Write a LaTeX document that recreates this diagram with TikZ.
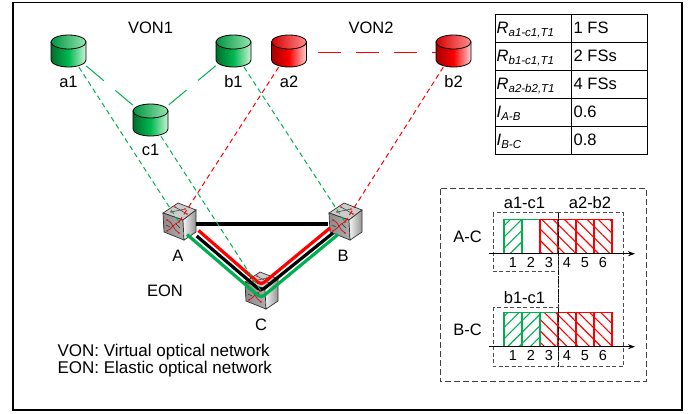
\documentclass[tikz,border=0pt]{standalone}
\usepackage{fontspec}
\setmainfont{Liberation Sans}
\usetikzlibrary{patterns.meta,arrows.meta}
\definecolor{vgreen}{RGB}{0,176,80}
\definecolor{vred}{RGB}{255,0,0}
\definecolor{gdk}{RGB}{0,110,45}
\definecolor{gmd}{RGB}{0,185,80}
\definecolor{glt}{RGB}{205,242,215}
\definecolor{gtopl}{RGB}{0,150,65}
\definecolor{gtopr}{RGB}{150,228,175}
\definecolor{rdk}{RGB}{165,0,0}
\definecolor{rmd}{RGB}{250,0,0}
\definecolor{rlt}{RGB}{255,210,210}
\definecolor{rtopl}{RGB}{215,0,0}
\definecolor{rtopr}{RGB}{255,140,140}
\tikzset{
  vnode/.style={rectangle, minimum width=35pt, minimum height=32pt, inner sep=0pt},
  swnode/.style={rectangle, minimum width=34pt, minimum height=37pt, inner sep=0pt},
  lbl/.style={inner sep=0pt, anchor=base},
  dig/.style={inner sep=0pt, anchor=base, font=\fontsize{14.5}{16}\selectfont},
  cell/.style={inner sep=0pt, anchor=base west},
  maplink/.style={line width=1pt, dash pattern=on 5pt off 3.5pt},
  vlink/.style={line width=1pt, dash pattern=on 23pt off 15pt},
  vlinkb/.style={line width=1.3pt, dash pattern=on 0pt off 11pt on 23pt off 15pt on 23pt off 15pt on 23pt off 15pt on 12pt},
  fiber/.style={line width=3.2pt, rounded corners=4pt},
  obox/.style={draw=black!75, line width=1pt, dash pattern=on 6pt off 3pt},
  ibox/.style={draw=black!70, line width=1pt, dash pattern=on 4pt off 2.5pt},
  gslot/.style={draw=vgreen, line width=1.2pt, pattern={Lines[angle=45,distance=8pt,line width=1.1pt]}, pattern color=vgreen},
  eslot/.style={draw=vgreen, line width=1.2pt},
  rslot/.style={draw=vred, line width=1.2pt, pattern={Lines[angle=-45,distance=8pt,line width=1.1pt]}, pattern color=vred},
  grslot/.style={draw=vgreen, line width=1.2pt, pattern={Lines[angle=-45,distance=8pt,line width=1.1pt]}, pattern color=vred},
  pics/vcyl/.style n args={5}{code={
    \draw[line width=0.8pt, left color=#1, right color=#3, middle color=#2]
      (-17.5,-9) -- (-17.5,9) arc[start angle=180, end angle=0, x radius=17.5, y radius=7] -- (17.5,-9) -- cycle;
    \draw[line width=0.8pt, left color=#4, right color=#5] (0,-9) ellipse[x radius=17.5, y radius=7];
  }},
  pics/swcube/.style={code={
    \draw[draw=black!80, line width=0.7pt, fill=black!20] (-16,-9) -- (-1,-19) -- (17,-12) -- (4,-2) -- cycle;
    \draw[draw=black!80, line width=0.7pt, left color=black!45, right color=black!32] (-16,-9) -- (4,-2) -- (5,18) -- (-15,10) -- cycle;
    \draw[draw=black!80, line width=0.7pt, left color=black!4, right color=black!42] (4,-2) -- (17,-12) -- (17,10) -- (5,18) -- cycle;
    \draw[black!80, line width=0.5pt] (-8,-10) -- (6,-13) (-4,-15) -- (8,-8);
    \fill[red] (-8,-10) circle (0.9) (8,-8) circle (0.9) (6,-13) circle (0.9) (-4,-15) circle (0.9);
    \draw[red!85!black, line width=0.6pt] (-12,-2) .. controls (-6,0) and (-6,8) .. (0,11);
    \draw[red!85!black, line width=0.6pt] (-12,9) .. controls (-6,6) and (-6,2) .. (0,0);
    \draw[black!80, line width=0.5pt] (-13,3) -- (-9,5) (-3,2) -- (1,6);
    \fill[red] (-12,-2) circle (0.9) (0,11) circle (0.9) (-12,9) circle (0.9) (0,0) circle (0.9);
  }}
}
\begin{document}
\begin{tikzpicture}[x=1pt, y=-1pt, font=\fontsize{16.5}{19}\selectfont]
\useasboundingbox (0,0) rectangle (699,413);
\draw[line width=1.2pt] (13,2.5) rectangle (682,410);

% ---------- nodes ----------
\node[vnode] (a1) at (68.5,51) {};
\node[vnode] (b1) at (233.5,51) {};
\node[vnode] (a2) at (289,51) {};
\node[vnode] (b2) at (453.5,51) {};
\node[vnode] (c1) at (150.5,120) {};
\node[swnode] (A) at (179,222) {};
\node[swnode] (B) at (345,222) {};
\node[swnode] (C) at (261,291) {};

% labels
\node[lbl] (lvon1) at (150.5,33) {VON1};
\node[lbl] (lvon2) at (371,33) {VON2};
\node[lbl] (la1) at (68.5,87) {a1};
\node[lbl] (lb1) at (233.5,87) {b1};
\node[lbl] (la2) at (289,87) {a2};
\node[lbl] (lb2) at (453.5,87) {b2};
\node[lbl] (lc1) at (150.5,155) {c1};
\node[lbl] (lA) at (178,261) {A};
\node[lbl] (lB) at (343,261) {B};
\node[lbl] (lC) at (261,330) {C};
\node[lbl] (leon) at (165,296) {EON};
\node[cell, font=\fontsize{17}{19}\selectfont] (leg1) at (57.3,356.7) {VON: Virtual optical network};
\node[cell, font=\fontsize{17}{19}\selectfont] (leg2) at (57.3,373.3) {EON: Elastic optical network};

% ---------- switches ----------
\pic at (A.center) {swcube};
\pic at (B.center) {swcube};
\pic at (C.center) {swcube};

% physical links
\draw[line width=3.3pt, black] ([shift={(0,2)}]A.east) -- ([shift={(0,2)}]B.west);
\draw[fiber, black] ([shift={(17.7,14)}]A.center) -- (C.center) -- ([shift={(-12,11)}]B.center);
\draw[fiber, vred] ([shift={(19.5,8.5)}]A.center) -- ([shift={(0,-6)}]C.center) -- ([shift={(-15,6)}]B.center);
\draw[fiber, vgreen] ([shift={(8,12.5)}]A.center) -- ([shift={(0,7)}]C.center) -- ([shift={(-7,12.5)}]B.center);

% virtual links
\draw[vlink, draw=vgreen] (a1) -- (c1);
\draw[vlink, draw=vgreen] (b1) -- (c1);
\draw[vlinkb, draw=vred] ([shift={(0,1.5)}]a2.east) -- ([shift={(0,1.5)}]b2.west);

% mapping links
\draw[maplink, draw=vgreen] (a1) -- (A.center);
\draw[maplink, draw=vgreen] (c1) -- (C.center);
\draw[maplink, draw=vgreen] (b1) -- (B.center);
\draw[maplink, draw=vred] (a2) -- (A.center);
\draw[maplink, draw=vred] (b2) -- (B.center);

% ---------- virtual nodes ----------
\pic at (a1.center) {vcyl={gdk}{gmd}{glt}{gtopl}{gtopr}};
\pic at (b1.center) {vcyl={gdk}{gmd}{glt}{gtopl}{gtopr}};
\pic at (c1.center) {vcyl={gdk}{gmd}{glt}{gtopl}{gtopr}};
\pic at (a2.center) {vcyl={rdk}{rmd}{rlt}{rtopl}{rtopr}};
\pic at (b2.center) {vcyl={rdk}{rmd}{rlt}{rtopl}{rtopr}};

% ---------- table ----------
\draw[line width=1pt] (495,14) rectangle (647,154);
\draw[line width=1pt] (495,42) -- (647,42) (495,70) -- (647,70) (495,98) -- (647,98) (495,126) -- (647,126) (571,14) -- (571,154);
\node[cell] (t1a) at (496.5,33) {\itshape R\raisebox{-3.5pt}{\fontsize{11.5}{12}\selectfont a1-c1,T1}};
\node[cell] (t2a) at (496.5,61) {\itshape R\raisebox{-3.5pt}{\fontsize{11.5}{12}\selectfont b1-c1,T1}};
\node[cell] (t3a) at (496.5,89) {\itshape R\raisebox{-3.5pt}{\fontsize{11.5}{12}\selectfont a2-b2,T1}};
\node[cell] (t4a) at (496.5,117) {\itshape I\raisebox{-3.5pt}{\fontsize{11.5}{12}\selectfont A-B}};
\node[cell] (t5a) at (496.5,145) {\itshape I\raisebox{-3.5pt}{\fontsize{11.5}{12}\selectfont B-C}};
\node[cell] (t1b) at (573.5,33) {1 FS};
\node[cell] (t2b) at (573.5,61) {2 FSs};
\node[cell] (t3b) at (573.5,89) {4 FSs};
\node[cell] (t4b) at (573.5,117) {0.6};
\node[cell] (t5b) at (573.5,145) {0.8};

% ---------- spectrum ----------
\draw[obox] (440,188.5) rectangle (646.5,381.7);
\draw[ibox] (493,212.7) rectangle (558,271.7);
\draw[ibox] (558,212.7) rectangle (623.3,366.7);
\draw[ibox] (493,307.3) rectangle (558,366.7);

% A-C slots
\draw[gslot] (504,219.3) rectangle (522,253.7);
\draw[eslot] (522,219.3) rectangle (540,253.7);
\draw[rslot] (540,219.3) rectangle (558,253.7);
\draw[rslot] (558,219.3) rectangle (576,253.7);
\draw[rslot] (576,219.3) rectangle (594,253.7);
\draw[rslot] (594,219.3) rectangle (612,253.7);
% B-C slots
\draw[gslot] (504,312.3) rectangle (522,346.7);
\draw[gslot] (522,312.3) rectangle (540,346.7);
\draw[grslot] (540,312.3) rectangle (558,346.7);
\draw[rslot] (558,312.3) rectangle (576,346.7);
\draw[rslot] (576,312.3) rectangle (594,346.7);
\draw[rslot] (594,312.3) rectangle (612,346.7);

\draw[black, line width=1pt, dash pattern=on 5pt off 1.5pt on 1.5pt off 1.5pt] (558,212.7) -- (558,366.7);

\coordinate (axAs) at (489,253.7);
\coordinate (axAe) at (635,253.7);
\coordinate (axBs) at (489,346.7);
\coordinate (axBe) at (635,346.7);
\draw[line width=1pt, -{Stealth[length=7pt,width=5pt]}] (axAs) -- (axAe);
\draw[line width=1pt, -{Stealth[length=7pt,width=5pt]}] (axBs) -- (axBe);

\node[lbl] (sac1) at (524.5,208) {a1-c1};
\node[lbl] (sab2) at (590,208) {a2-b2};
\node[lbl] (sbc1) at (524.5,303) {b1-c1};
\node[lbl] (sAC) at (467.5,242) {A-C};
\node[lbl] (sBC) at (467.5,335) {B-C};
\foreach \i/\x in {1/513,2/531,3/549,4/567,5/585,6/603}{
  \node[dig] (dA\i) at (\x,267) {\i};
  \node[dig] (dB\i) at (\x,360) {\i};
}
\end{tikzpicture}
\end{document}
